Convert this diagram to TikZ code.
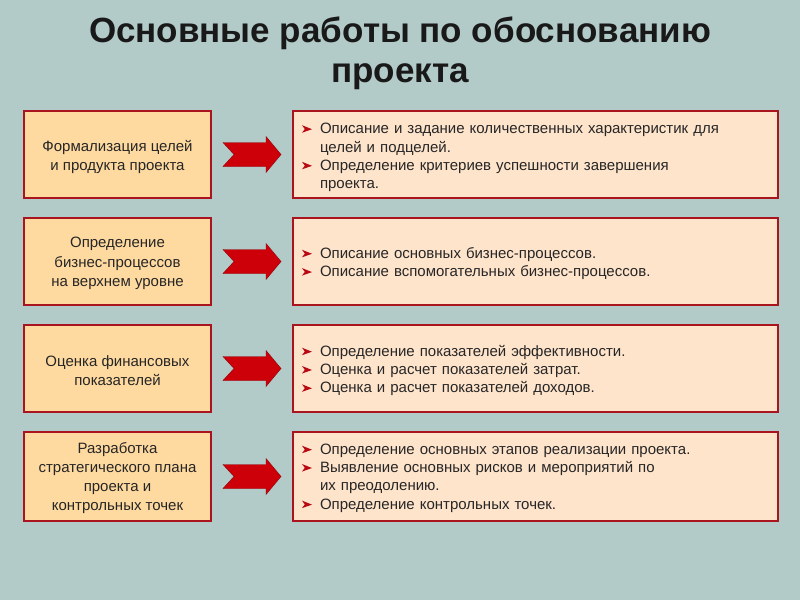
\documentclass[tikz,border=0pt]{standalone}
\usepackage{fontspec}
\setmainfont{Liberation Sans}
\usetikzlibrary{calc}
\definecolor{bgc}{RGB}{178,202,200}
\definecolor{leftfill}{RGB}{255,218,160}
\definecolor{rightfill}{RGB}{255,228,204}
\definecolor{bordred}{RGB}{170,20,30}
\definecolor{arrred}{RGB}{205,0,10}
\definecolor{bulred}{RGB}{185,10,20}
\newcommand{\bul}{\makebox[19pt][l]{\hspace*{1pt}\tikz[x=1pt,y=1pt,baseline=0pt]{\fill[bulred] (0,1) -- (10,4.5) -- (0,8.5) -- (2.8,4.7) -- cycle;}}}
\newcommand{\ind}{\hspace*{19pt}}
\tikzset{
  leftbox/.style={draw=bordred, line width=1.4pt, fill=leftfill, minimum width=187pt, minimum height=87pt},
  rightbox/.style={draw=bordred, line width=1.4pt, fill=rightfill, minimum width=485pt, minimum height=87pt},
  lefttext/.style={align=center, inner sep=0pt, font=\fontsize{15}{19.2}\selectfont, text=black!85},
  righttext/.style={text width=469pt, inner sep=0pt, align=left, font=\fontsize{15}{18.3}\selectfont, text=black!85},
  redarrow/.pic={\fill[arrred, draw=arrred!70!black, line width=0.4pt] (-29,-12) -- (14,-12) -- (14,-18) -- (29,0) -- (14,18) -- (14,12) -- (-29,12) -- (-18,0) -- cycle;}
}
\begin{document}
\begin{tikzpicture}[x=1pt, y=-1pt]
\fill[bgc] (0,0) rectangle (800,600);
\useasboundingbox (0,0) rectangle (800,600);
\node[font=\bfseries\fontsize{35}{40}\selectfont, align=center, text=black!90] (title) at (400,53) {Основные работы по обоснованию\\проекта};

\node[leftbox] (L1) at (117.5,154.5) {};
\node[leftbox] (L2) at (117.5,261.5) {};
\node[leftbox] (L3) at (117.5,368.5) {};
\node[leftbox, minimum height=89pt] (L4) at (117.5,476.5) {};
\node[lefttext] (L1t) at ($(L1.center)+(0,2.5)$) {Формализация целей\\и продукта проекта};
\node[lefttext] (L2t) at ($(L2.center)+(0,2)$) {Определение\\бизнес-процессов\\на верхнем уровне};
\node[lefttext] (L3t) at ($(L3.center)+(0,2)$) {Оценка финансовых\\показателей};
\node[lefttext] (L4t) at ($(L4.center)+(0,1.5)$) {Разработка\\стратегического плана\\проекта и\\контрольных точек};

\node[rightbox] (R1) at (535.5,154.5) {};
\node[rightbox] (R2) at (535.5,261.5) {};
\node[rightbox] (R3) at (535.5,368.5) {};
\node[rightbox, minimum height=89pt] (R4) at (535.5,476.5) {};
\node[righttext] (R1t) at ($(R1.center)+(0,3)$) {\bul Описание и задание количественных характеристик для\\\ind целей и подцелей.\\\bul Определение критериев успешности завершения\\\ind проекта.};
\node[righttext] (R2t) at ($(R2.center)+(0,2)$) {\bul Описание основных бизнес-процессов.\\\bul Описание вспомогательных бизнес-процессов.};
\node[righttext] (R3t) at ($(R3.center)+(0,2)$) {\bul Определение показателей эффективности.\\\bul Оценка и расчет показателей затрат.\\\bul Оценка и расчет показателей доходов.};
\node[righttext] (R4t) at ($(R4.center)+(0,1.5)$) {\bul Определение основных этапов реализации проекта.\\\bul Выявление основных рисков и мероприятий по\\\ind их преодолению.\\\bul Определение контрольных точек.};

\foreach \i in {1,2,3,4}{
  \pic at ($(L\i.east)!0.5!(R\i.west)$) {redarrow};
}
\end{tikzpicture}
\end{document}
